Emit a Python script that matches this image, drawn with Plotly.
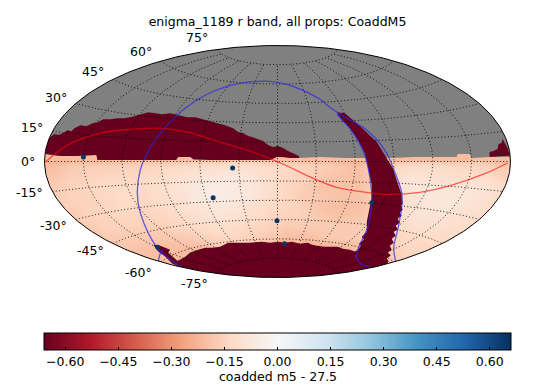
import numpy as np
import plotly.graph_objects as go

TITLE = "enigma_1189 r band, all props: CoaddM5"
CBAR_LABEL = "coadded m5 - 27.5"
LATS = [-75, -60, -45, -30, -15, 0, 15, 30, 45, 60, 75]
LONS = [-150, -120, -90, -60, -30, 0, 30, 60, 90, 120, 150]
LAT_LABEL_NUDGE = [10, 11, 7, 6, 1, 0, -4, -6, -8, -10, -12]
VMIN, VMAX = -0.66, 0.66
FS = 12.5

RDBU = [[0.0, "#67001f"], [0.1, "#b2182b"], [0.2, "#d6604d"], [0.3, "#f4a582"], [0.4, "#fddbc7"],
        [0.5, "#f7f7f7"], [0.6, "#d1e5f0"], [0.7, "#92c5de"], [0.8, "#4393c3"], [0.9, "#2166ac"], [1.0, "#053061"]]

# Map plane coordinates (half-width 233.5, half-height 116.5).
sky_x = [-225 + 18 * i for i in range(26)]
sky_y = [15, 5, -5, -15, -25, -35, -45, -55, -65, -75, -85, -95, -105, -115]
m5_offset = [
 [-.27,-.27,-.26,-.26,-.26,-.26,-.25,-.25,-.24,-.24,-.23,-.23,-.24,-.25,-.26,-.27,-.27,-.28,-.26,-.25,-.24,-.24,-.25,-.24,-.25,-.27],
 [-.25,-.24,-.24,-.23,-.23,-.23,-.22,-.22,-.21,-.21,-.20,-.20,-.21,-.22,-.23,-.24,-.25,-.26,-.24,-.23,-.21,-.21,-.22,-.21,-.22,-.24],
 [-.20,-.17,-.16,-.16,-.15,-.15,-.14,-.13,-.12,-.11,-.10,-.11,-.13,-.14,-.15,-.16,-.18,-.20,-.16,-.14,-.12,-.12,-.13,-.14,-.15,-.17],
 [-.18,-.16,-.15,-.14,-.14,-.13,-.12,-.11,-.09,-.08,-.07,-.09,-.12,-.14,-.15,-.18,-.19,-.20,-.16,-.12,-.09,-.10,-.11,-.12,-.12,-.15],
 [-.17,-.15,-.14,-.13,-.12,-.13,-.11,-.09,-.07,-.05,-.06,-.08,-.11,-.14,-.16,-.19,-.19,-.19,-.16,-.11,-.08,-.08,-.08,-.08,-.09,-.12],
 [-.17,-.15,-.15,-.14,-.12,-.14,-.12,-.10,-.07,-.05,-.06,-.08,-.12,-.14,-.17,-.18,-.19,-.19,-.16,-.12,-.09,-.08,-.08,-.08,-.10,-.13],
 [-.17,-.16,-.15,-.14,-.13,-.14,-.13,-.11,-.09,-.07,-.08,-.11,-.13,-.14,-.16,-.19,-.20,-.20,-.16,-.13,-.10,-.08,-.08,-.09,-.11,-.14],
 [-.17,-.17,-.15,-.15,-.14,-.15,-.14,-.13,-.11,-.09,-.10,-.12,-.14,-.15,-.16,-.18,-.19,-.18,-.16,-.12,-.09,-.09,-.10,-.11,-.13,-.16],
 [-.19,-.17,-.17,-.15,-.15,-.16,-.16,-.14,-.13,-.12,-.12,-.14,-.15,-.17,-.17,-.17,-.17,-.17,-.16,-.13,-.11,-.11,-.11,-.13,-.14,-.17],
 [-.20,-.19,-.18,-.17,-.17,-.17,-.18,-.17,-.16,-.14,-.14,-.15,-.17,-.20,-.20,-.18,-.17,-.17,-.16,-.14,-.13,-.12,-.13,-.14,-.16,-.18],
 [-.20,-.20,-.19,-.18,-.18,-.19,-.20,-.20,-.20,-.18,-.17,-.18,-.20,-.23,-.24,-.22,-.21,-.20,-.17,-.15,-.14,-.14,-.15,-.17,-.18,-.20],
 [-.21,-.20,-.20,-.20,-.20,-.20,-.20,-.21,-.21,-.22,-.22,-.23,-.24,-.25,-.25,-.24,-.22,-.20,-.18,-.16,-.14,-.15,-.17,-.18,-.20,-.21],
 [-.21,-.20,-.20,-.20,-.20,-.20,-.21,-.21,-.22,-.22,-.22,-.23,-.24,-.25,-.25,-.24,-.22,-.20,-.18,-.17,-.16,-.16,-.17,-.19,-.20,-.21],
 [-.21,-.20,-.20,-.20,-.20,-.20,-.21,-.21,-.22,-.22,-.22,-.23,-.24,-.25,-.25,-.24,-.22,-.20,-.18,-.17,-.16,-.16,-.17,-.19,-.20,-.21],
]

rim_x = [-239.5, 239.5, 239.5, -239.5]
rim_y = [0, 0, 10, 10]

nodata_x = [239.5, 233.5, 212.5, 194.5, 192.5, 180.5, 179.5, 167.5, 135.5, 115.5, 100, 89.5, 67.5, 42.5, 21.5,
            0, -7.5, -27.5, -84.5, -87.5, -99.5, -101.5, -180.5, -181.5, -217.5, -232.5, -239.5, -239.5, 239.5]
nodata_y = [4.5, 4.5, 4.5, 3.5, 7.5, 7.5, 4.5, 4.5, 4.5, 3.5, 4.5, 3.5, 3.5, 4.5, 3.5,
            4.5, 4.5, 1.5, 1.5, 6.5, 5.5, 5.5, 5.5, 6.5, 5.5, 7.5, 7.5, 119.5, 119.5]

north_x = [-231.5,-227.5,-223.5,-219.5,-214.5,-210.5,-206.5,-203.5,-197.5,-191.5,-185.5,-180.5,-174.5,-167.5,-160.5,-153.5,
           -147.5,-140.5,-134.5,-129.5,-122.5,-115.5,-107.5,-99.5,-90.5,-82.5,-74.5,-67.5,-60.5,-52.5,-44.5,-39.5,-34.5,-29.5,
           -25.5,-19.5,-14.5,-9.5,-4.5,0.5,5.5,10.5,15.5,21.5,
           21.5,12.5,5.5,-0.5,-7.5,-27.5,-47.5,-67.5,-84.5,-87.5,-99.5,-101.5,-127.5,-157.5,-180.5,-181.5,-200.5,-217.5,-232.5]
north_y = [22.5,24.5,27.5,26.5,28.5,31.5,30.5,33.5,36.5,35.5,38.5,39.5,42.5,42.5,43.5,43.5,
           44.5,46.5,47.5,49.5,48.5,47.5,48.5,46.5,44.5,44.5,42.5,40.5,38.5,36.5,33.5,29.5,28.5,25.5,
           24.5,22.5,20.5,16.5,14.5,15.5,13.5,10.5,8.5,5.5,
           3.5,3.5,4.5,4.5,1.5,1.5,1.5,1.5,2.5,4.5,4.5,1.5,1.5,1.5,1.5,6.5,5.5,5.5,7.5]

band_x = [59.5,67.5,79.5,89.5,99.5,107.5,115.5,120.5,124.5,124.5,125.5,123.5,125.5,122.5,124.5,120.5,122.5,118.5,120.5,116.5,
          118.5,114.5,116.5,112.5,114.5,110.5,113.5,109.5,111.5,109.5,107.5,80.5,77.5,80.5,83.5,81.5,86.5,84.5,89.5,89.5,91.5,94.5,94.5,91.5,89.5,87.5,80.5,72.5,64.5]
band_y = [49.5,48.5,38.5,29.5,19.5,6.5,-6.5,-21.5,-33.5,-36.5,-42.5,-44.5,-48.5,-51.5,-54.5,-57.5,-61.5,-64.5,-68.5,-70.5,
          -74.5,-77.5,-81.5,-84.5,-88.5,-91.5,-94.5,-97.5,-100.5,-102.5,-125,-125,-90.5,-88.5,-84.5,-82.5,-78.5,-75.5,-70.5,-60.5,-51.5,-35.5,-23.5,-10.5,1.5,8.5,21.5,33.5,41.5]

south_x = [-97.5,-101.5,-93.5,-87.5,-79.5,-72.5,-65.5,-57.5,-49.5,-37.5,-27.5,-15.5,-7.5,0.5,7.5,14.5,22.5,30.5,34.5,39.5,47.5,60.5,65.5,72.5,77.5,82.5,-97.5]
south_y = [-106.5,-100.5,-96.5,-91.5,-88.5,-86.5,-86.5,-85.5,-81.5,-81.5,-81.5,-80.5,-81.5,-80.5,-81.5,-80.5,-82.5,-81.5,-83.5,-84.5,-85.5,-85.5,-87.5,-88.5,-90.5,-125,-125]

spur_x = [-124.5,-117.5,-112.5,-107.5,-109.5,-105.5,-99.5,-97.5,-105.5,-112.5,-119.5]
spur_y = [-83.5,-84.5,-86.5,-88.5,-91.5,-95.5,-100.5,-106.5,-102.5,-95.5,-90.5]

patch_x = [212.5,212.5,216.5,220.5,221.5,224.5,225.5,227.5,230.5,233.5,233.5,212.5]
patch_y = [4.5,9.5,10.5,12.5,17.5,18.5,22.5,18.5,13.5,4.5,6,4.5]

ecliptic_x = [-232.5,-210.5,-177.5,-144.5,-120.5,-90.5,-57.5,-24.5,7.5,32.5,59.5,92.5,109.5,142.5,175.5,209.5,230.5]
ecliptic_y = [-0.5,16.5,28.5,32.5,33.5,29.5,19.5,9.5,-3.5,-15.5,-26,-31.5,-33,-31,-23.5,-11.5,-1.5]

plane_a_x = [-97.5,-120.5,-137.5,-140.5,-137.5,-130.5,-120.5,-107.5,-92.5,-72.5,-50.5,-20.5,-7.5,9.5,25.5,42.5,52.5,67.5,89.5,107.5,117.5,124.5,124.5,120.5,116.5,118.5]
plane_a_y = [-105.5,-86.5,-51.5,-31.5,-8.5,8.5,24.5,39.5,53.5,66.5,75.5,80.5,80.5,77.5,71.5,62.5,54.5,44.5,31.5,11.5,-10.5,-31.5,-45.5,-68.5,-86.5,-100.5]
plane_b_x = [59.5,72.5,80.5,87.5,92.5,94.5,90.5,80.5,79.5,84.5,92.5]
plane_b_y = [47.5,33.5,21.5,6.5,-15.5,-38.5,-65.5,-88.5,-96.5,-103.5,-105.5]
plane_c_x = [-115.5,-118.5,-119.5]
plane_c_y = [-88.5,-95.5,-102.5]

dots_x = [-194.5, -45, -64.5, -0.5, 7, 94.5, -120]
dots_y = [4.5, -6.5, -36.5, -59.5, -82.5, -41.5, -86]

A, B = 233.5, 116.5


def aitoff(lon_deg, lat_deg):
    lon, lat = np.radians(lon_deg), np.radians(lat_deg)
    alpha = np.arccos(np.cos(lat) * np.cos(lon / 2))
    s = np.sinc(alpha / np.pi)
    return 2 * np.cos(lat) * np.sin(lon / 2) / s * A / np.pi, np.sin(lat) / s * B / (np.pi / 2)


fig = go.Figure()
fig.add_trace(go.Heatmap(
    x=sky_x, y=sky_y, z=m5_offset, zmin=VMIN, zmax=VMAX, zsmooth="best", colorscale=RDBU, hoverinfo="skip",
    colorbar=dict(orientation="h", xref="paper", yref="container", x=0.5, xanchor="center",
                  y=1 - 332.5 / 392, yanchor="top", lenmode="pixels", len=467, thicknessmode="pixels", thickness=16.5,
                  xpad=0, ypad=0, outlinewidth=1, outlinecolor="black", ticks="inside", ticklen=3, tickwidth=1,
                  tickcolor="black", tick0=0, dtick=0.15, tickformat=".2f",
                  tickfont=dict(family="DejaVu Sans", size=FS, color="black"))))


def poly(x, y, color):
    fig.add_trace(go.Scatter(x=x, y=y, mode="lines", fill="toself", fillcolor=color, line=dict(width=0), hoverinfo="skip"))


poly(rim_x, rim_y, "#f8bd9f")
poly(nodata_x, nodata_y, "#808080")
DARK = RDBU[0][1]
poly(north_x, north_y, DARK)
poly(band_x, band_y, DARK)
poly(south_x, south_y, DARK)
poly(spur_x, spur_y, DARK)
poly(patch_x, patch_y, DARK)

grid = dict(color="rgba(0,0,0,0.85)", width=1, dash="1px,2.3px")
for lat in LATS:
    gx, gy = aitoff(np.linspace(-180, 180, 181), np.full(181, lat))
    fig.add_trace(go.Scatter(x=gx, y=gy, mode="lines", line=grid, hoverinfo="skip"))
for lon in LONS:
    gx, gy = aitoff(np.full(101, lon), np.linspace(-75, 75, 101))
    fig.add_trace(go.Scatter(x=gx, y=gy, mode="lines", line=grid, hoverinfo="skip"))

fig.add_trace(go.Scatter(x=ecliptic_x, y=ecliptic_y, mode="lines", line=dict(color="rgba(255,0,0,0.6)", width=1.3, shape="spline"), hoverinfo="skip"))
for px_, py_ in [(plane_a_x, plane_a_y), (plane_b_x, plane_b_y), (plane_c_x, plane_c_y)]:
    fig.add_trace(go.Scatter(x=px_, y=py_, mode="lines", line=dict(color="rgba(40,40,230,0.72)", width=1.3, shape="spline"), hoverinfo="skip"))
fig.add_trace(go.Scatter(x=dots_x, y=dots_y, mode="markers", marker=dict(color="#0b3560", size=5), hoverinfo="skip"))

# white mask outside the sky ellipse, and its outline
t = np.linspace(0, 2 * np.pi, 361)
ex, ey = A * np.cos(t), B * np.sin(t)
ring_x = np.concatenate([[240, 240, -240, -240, 240, 240], ex])
ring_y = np.concatenate([[0, -120, -120, 120, 120, 0], ey])
fig.add_trace(go.Scatter(x=ring_x, y=ring_y, mode="lines", fill="toself", fillcolor="white", line=dict(width=0), hoverinfo="skip"))
fig.add_trace(go.Scatter(x=ex, y=ey, mode="lines", line=dict(color="black", width=1), hoverinfo="skip"))

ann = []
for lat, nudge in zip(LATS, LAT_LABEL_NUDGE):
    lx, ly = aitoff(-180.0, float(lat))
    ann.append(dict(x=lx, y=ly, xref="x", yref="y", text=f"{lat}°", showarrow=False, xanchor="right", yanchor="middle",
                    xshift=-7, yshift=-nudge, font=dict(family="DejaVu Sans", size=FS, color="black")))
ann.append(dict(x=0.5, y=(281.5 - 377) / 240, xref="paper", yref="paper", text=CBAR_LABEL, showarrow=False,
                xanchor="center", yanchor="middle", font=dict(family="DejaVu Sans", size=FS, color="black")))

fig.update_layout(
    width=538, height=392, showlegend=False, paper_bgcolor="white", plot_bgcolor="white",
    margin=dict(l=37.5, r=20.5, t=41.5, b=110.5, autoexpand=False),
    xaxis=dict(range=[-240, 240], visible=False, fixedrange=True),
    yaxis=dict(range=[-120, 120], visible=False, fixedrange=True),
    title=dict(text=TITLE, x=277.5 / 538, xanchor="center", y=1 - 22 / 392, yanchor="middle",
               font=dict(family="DejaVu Sans", size=FS, color="black")),
    annotations=ann,
)
fig.write_html("out.html", post_script="document.body.style.margin='0';", config={"displayModeBar": False})
